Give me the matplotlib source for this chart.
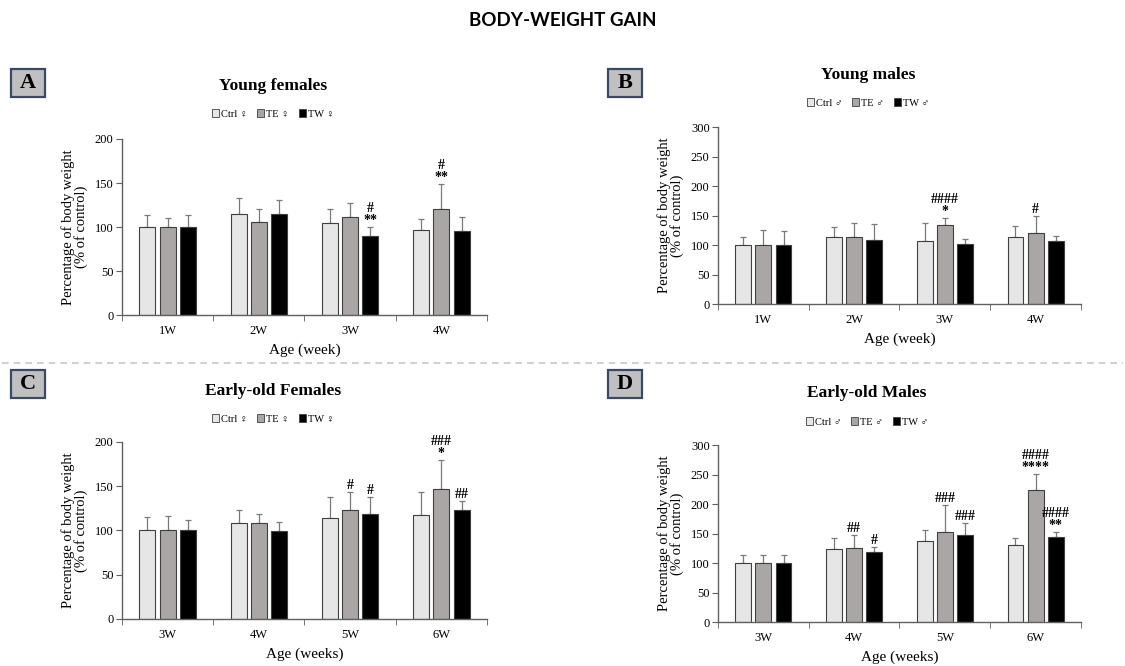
"""Body-weight gain, four panels of grouped bars with one-sided error bars."""

import matplotlib

matplotlib.use("Agg")

import matplotlib.pyplot as plt
import numpy as np
from matplotlib.lines import Line2D
from matplotlib.patches import Patch, Rectangle

SERIF = ["Liberation Serif", "DejaVu Sans"]
plt.rcParams["font.family"] = SERIF

COLOR_CTRL = "#e6e6e6"
COLOR_TE = "#aaa6a6"
COLOR_TW = "#000000"
EDGE = "#404040"
AXIS = "#606060"

# --- data -----------------------------------------------------------------
weeks_young = ["1W", "2W", "3W", "4W"]
weeks_old = ["3W", "4W", "5W", "6W"]

# A: young females
a_ctrl = [100, 115, 105, 97]
a_ctrl_sd = [14, 18, 15, 12]
a_te = [100, 106, 111, 121]
a_te_sd = [10, 15, 16, 28]
a_tw = [100, 115, 90, 95]
a_tw_sd = [14, 16, 10, 16]
a_marks = [(2, 2, "#\n**"), (3, 1, "#\n**")]

# B: young males
b_ctrl = [100, 114, 106, 113]
b_ctrl_sd = [14, 17, 31, 20]
b_te = [100, 114, 134, 121]
b_te_sd = [25, 24, 12, 29]
b_tw = [100, 109, 101, 107]
b_tw_sd = [23, 27, 10, 9]
b_marks = [(2, 1, "####\n*"), (3, 1, "#")]

# C: early-old females
c_ctrl = [100, 108, 114, 117]
c_ctrl_sd = [15, 15, 24, 26]
c_te = [100, 108, 123, 147]
c_te_sd = [16, 11, 20, 33]
c_tw = [100, 99, 119, 123]
c_tw_sd = [12, 11, 19, 10]
c_marks = [(2, 1, "#"), (2, 2, "#"), (3, 1, "###\n*"), (3, 2, "##")]

# D: early-old males
d_ctrl = [100, 124, 137, 131]
d_ctrl_sd = [13, 19, 19, 11]
d_te = [100, 126, 153, 223]
d_te_sd = [13, 22, 46, 28]
d_tw = [100, 118, 147, 144]
d_tw_sd = [13, 10, 21, 9]
d_marks = [(1, 1, "##"), (1, 2, "#"), (2, 1, "###"), (2, 2, "###"),
           (3, 1, "####\n****"), (3, 2, "####\n**")]


def draw_panel(ax, cats, series, sds, marks, ymax, xlabel):
    x = np.arange(len(cats)) + 0.5
    width = 0.175
    step = 0.222
    colors = [COLOR_CTRL, COLOR_TE, COLOR_TW]
    tops = []
    for i, (vals, sd, col) in enumerate(zip(series, sds, colors)):
        xs = x + (i - 1) * step
        ax.bar(xs, vals, width=width, color=col, edgecolor=EDGE, linewidth=0.8, zorder=2)
        ax.errorbar(xs, vals, yerr=[np.zeros(len(sd)), sd], fmt="none",
                    ecolor="#7a7a7a", elinewidth=0.9, capsize=2.5, capthick=0.9, zorder=1)
        tops.append(np.array(vals) + np.array(sd))
    for g, s, txt in marks:
        ax.annotate(txt, (x[g] + (s - 1) * step, tops[s][g]), xytext=(0, 0),
                    textcoords="offset points", ha="center", va="bottom",
                    fontsize=10, fontweight="bold", linespacing=0.9)

    ax.set_xlim(0, len(cats))
    ax.set_ylim(0, ymax)
    ax.set_yticks(np.arange(0, ymax + 1, 50))
    ax.set_xticks(x)
    ax.set_xticklabels(cats)
    ax.set_xticks(np.arange(len(cats) + 1), minor=True)
    ax.tick_params(axis="x", which="major", length=0, pad=7, labelsize=9)
    ax.tick_params(axis="x", which="minor", length=4, direction="out", color=AXIS)
    ax.tick_params(axis="y", length=4, direction="out", color=AXIS, labelsize=9, pad=2)
    for side in ("top", "right"):
        ax.spines[side].set_visible(False)
    for side in ("left", "bottom"):
        ax.spines[side].set_color(AXIS)
        ax.spines[side].set_linewidth(1.0)
    ax.set_ylabel("Percentage of body weight\n(% of control)", fontsize=10.5, labelpad=5,
                  linespacing=0.95)
    ax.set_xlabel(xlabel, fontsize=11, labelpad=5)


def panel_header(fig, letter, box_x, box_y, title, title_x, title_y, legend_y, sex):
    W, H = 1125.0, 666.0
    rect = Rectangle((box_x / W, 1 - (box_y + 28) / H), 34 / W, 28 / H,
                     transform=fig.transFigure, facecolor="#c0c0c0",
                     edgecolor="#3a4a66", linewidth=1.6)
    fig.add_artist(rect)
    fig.text((box_x + 17) / W, 1 - (box_y + 14) / H, letter, ha="center", va="center",
             fontsize=16, fontweight="bold")
    fig.text(title_x / W, 1 - title_y / H, title, ha="center", va="center",
             fontsize=12.5, fontweight="bold")
    handles = [Patch(facecolor=c, edgecolor=EDGE, linewidth=0.6)
               for c in (COLOR_CTRL, COLOR_TE, COLOR_TW)]
    labels = [f"Ctrl {sex}", f"TE {sex}", f"TW {sex}"]
    fig.legend(handles, labels, loc="center", bbox_to_anchor=(title_x / W, 1 - legend_y / H),
               ncol=3, frameon=False, handlelength=0.7, handleheight=0.7,
               handletextpad=0.2, columnspacing=0.9, prop={"family": SERIF, "size": 7.5})


fig = plt.figure(figsize=(11.25, 6.66), dpi=100)
fig.text(0.5, 1 - 20 / 666, "BODY-WEIGHT GAIN", ha="center", va="center",
         fontsize=13.5, fontweight="bold", family=["Lato", "DejaVu Sans"])

ax_a = fig.add_axes([0.1084, 0.527, 0.3244, 0.2643])
ax_b = fig.add_axes([0.6382, 0.5435, 0.3227, 0.2658])
ax_c = fig.add_axes([0.1084, 0.0706, 0.3244, 0.2658])
ax_d = fig.add_axes([0.6382, 0.066, 0.3227, 0.2658])

draw_panel(ax_a, weeks_young, [a_ctrl, a_te, a_tw], [a_ctrl_sd, a_te_sd, a_tw_sd],
           a_marks, 200, "Age (week)")
draw_panel(ax_b, weeks_young, [b_ctrl, b_te, b_tw], [b_ctrl_sd, b_te_sd, b_tw_sd],
           b_marks, 300, "Age (week)")
draw_panel(ax_c, weeks_old, [c_ctrl, c_te, c_tw], [c_ctrl_sd, c_te_sd, c_tw_sd],
           c_marks, 200, "Age (weeks)")
draw_panel(ax_d, weeks_old, [d_ctrl, d_te, d_tw], [d_ctrl_sd, d_te_sd, d_tw_sd],
           d_marks, 300, "Age (weeks)")

panel_header(fig, "A", 11, 69, "Young females", 273, 86, 114, "\u2640")
panel_header(fig, "B", 608, 69, "Young males", 868, 75, 103, "\u2642")
panel_header(fig, "C", 11, 370, "Early-old Females", 273, 391, 419, "\u2640")
panel_header(fig, "D", 608, 370, "Early-old Males", 867, 393, 422, "\u2642")

# dashed separator between the young and early-old rows
fig.add_artist(Line2D([0.002, 0.998], [1 - 363 / 666] * 2, transform=fig.transFigure,
                      color="#c8c8c8", linestyle=(0, (4, 3)), linewidth=1.2))

fig.savefig("out.png", dpi=100)
